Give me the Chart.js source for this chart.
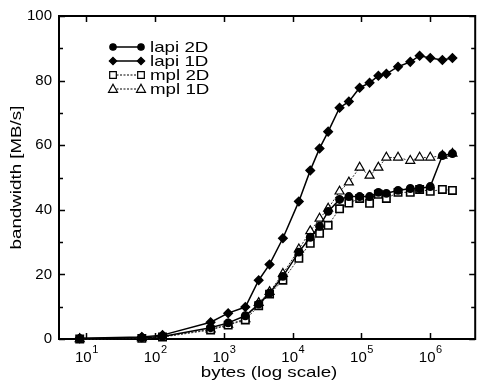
<!DOCTYPE html>
<html>
<head>
<meta charset="utf-8">
<script src="https://cdn.jsdelivr.net/npm/chart.js@4/dist/chart.umd.min.js"></script>
<style>
  html, body { margin: 0; padding: 0; background: #fff; }
</style>
</head>
<body>
<canvas id="myChart" width="482" height="381"></canvas>
<script>
// message sizes in bytes (shared by all series)
const bytes = [8, 64, 128, 640, 1152, 2048, 3200, 4608, 7200, 12288, 18000, 24576,
  32768, 48000, 65536, 94000, 131072, 176000, 230000, 340000, 512000, 700000,
  1000000, 1500000, 2100000];

const lapi2D = [0.1, 0.4, 0.8, 3.5, 5.0, 7.2, 10.8, 14.2, 19.4, 26.9, 31.5, 34.9,
  39.5, 43.2, 44.1, 44.1, 44.1, 45.4, 45.1, 46.0, 46.6, 46.6, 47.2, 56.8, 57.4];
const lapi1D = [0.2, 0.6, 1.2, 5.2, 8.0, 9.9, 18.2, 23.1, 31.2, 42.6, 52.2, 59.0,
  64.2, 71.6, 73.5, 77.8, 79.3, 81.5, 82.1, 84.3, 85.8, 87.7, 87.0, 86.4, 87.0];
const mpl2D = [0, 0.2, 0.6, 2.8, 4.3, 5.9, 10.3, 13.9, 18.2, 25.0, 29.6, 32.7,
  35.2, 40.3, 42.1, 43.5, 42.0, 44.8, 43.5, 45.4, 45.4, 46.3, 45.7, 46.3, 46.0];
const mpl1D = [0, 0.3, 0.7, 3.0, 4.5, 6.2, 11.2, 14.6, 20.2, 27.8, 33.4, 37.3,
  40.4, 45.7, 48.5, 53.1, 50.6, 53.1, 56.2, 56.2, 55.2, 56.2, 56.2, 56.8, 57.4];

const seriesNames = ["lapi 2D", "lapi 1D", "mpl 2D", "mpl 1D"];
const xTicks = [10, 100, 1000, 10000, 100000, 1000000];
const yTicks = [0, 20, 40, 60, 80, 100];
const xTitle = "bytes (log scale)";
const yTitle = "bandwidth [MB/s]";

const FONT = "Liberation Sans, Arial, sans-serif";
const STRETCH = 1.25; // titles and legend text are drawn wider than tall

function pairs(values) {
  return bytes.map((b, i) => ({ x: b, y: values[i] }));
}

function wideText(ctx, text, x, y, rotate) {
  ctx.save();
  ctx.translate(x, y);
  if (rotate) ctx.rotate(-Math.PI / 2);
  ctx.scale(STRETCH, 1);
  ctx.fillText(text, 0, 0);
  ctx.restore();
}

function drawMarker(ctx, style, x, y, r) {
  ctx.beginPath();
  if (style === "circle") {
    ctx.arc(x, y, r, 0, Math.PI * 2);
  } else if (style === "rectRot") {
    ctx.moveTo(x, y - r);
    ctx.lineTo(x + r, y);
    ctx.lineTo(x, y + r);
    ctx.lineTo(x - r, y);
    ctx.closePath();
  } else if (style === "rect") {
    const s = r * Math.SQRT1_2;
    ctx.rect(x - s, y - s, 2 * s, 2 * s);
  } else if (style === "triangle") {
    ctx.moveTo(x, y - r);
    ctx.lineTo(x + r * 0.95, y + r * 0.7);
    ctx.lineTo(x - r * 0.95, y + r * 0.7);
    ctx.closePath();
  }
  ctx.fill();
  ctx.stroke();
}

// box with inward ticks on all four sides, tick labels and titles
const frame = {
  id: "frame",
  beforeDatasetsDraw(chart) {
    const { ctx, chartArea: a, scales } = chart;
    ctx.save();
    ctx.strokeStyle = "#000";
    ctx.lineWidth = 2;
    ctx.strokeRect(a.left, a.top, a.right - a.left, a.bottom - a.top);
    ctx.lineWidth = 1.5;
    ctx.beginPath();
    for (let v = 0; v <= 100; v += 10) {
      const y = Math.round(scales.y.getPixelForValue(v)) + 0.5;
      const len = v % 20 === 0 ? 6 : 4;
      ctx.moveTo(a.left, y); ctx.lineTo(a.left + len, y);
      ctx.moveTo(a.right, y); ctx.lineTo(a.right - len, y);
    }
    xTicks.forEach((v) => {
      const x = Math.round(scales.x.getPixelForValue(v)) + 0.5;
      ctx.moveTo(x, a.bottom); ctx.lineTo(x, a.bottom - 6);
      ctx.moveTo(x, a.top); ctx.lineTo(x, a.top + 6);
    });
    ctx.stroke();

    // x tick labels as 10 with a raised exponent
    ctx.fillStyle = "#000";
    ctx.textBaseline = "alphabetic";
    ctx.textAlign = "left";
    xTicks.forEach((v) => {
      const x = scales.x.getPixelForValue(v);
      const exp = String(Math.round(Math.log10(v)));
      ctx.font = "15px " + FONT;
      const w1 = ctx.measureText("10").width;
      ctx.font = "11px " + FONT;
      const w2 = ctx.measureText(exp).width;
      const left = x - (w1 + w2) / 2;
      ctx.font = "15px " + FONT;
      ctx.fillText("10", left, a.bottom + 23);
      ctx.font = "11px " + FONT;
      ctx.fillText(exp, left + w1 + 0.5, a.bottom + 14);
    });

    // axis titles
    ctx.font = "15px " + FONT;
    ctx.textAlign = "center";
    ctx.textBaseline = "middle";
    wideText(ctx, xTitle, (a.left + a.right) / 2 + 2, 373, false);
    wideText(ctx, yTitle, 17, (a.top + a.bottom) / 2, true);
    ctx.restore();
  },
  afterDraw(chart) {
    const { ctx } = chart;
    ctx.save();
    chart.data.datasets.forEach((ds, i) => {
      const y = 47 + 14 * i;
      ctx.strokeStyle = "#000";
      ctx.lineWidth = ds.borderWidth;
      ctx.setLineDash(ds.borderDash || []);
      ctx.beginPath();
      ctx.moveTo(113, y);
      ctx.lineTo(141, y);
      ctx.stroke();
      ctx.setLineDash([]);
      ctx.fillStyle = ds.pointBackgroundColor;
      ctx.lineWidth = 1.2;
      drawMarker(ctx, ds.pointStyle, 113, y, ds.pointRadius - 0.5);
      drawMarker(ctx, ds.pointStyle, 141, y, ds.pointRadius - 0.5);
      ctx.fillStyle = "#000";
      ctx.font = "15px " + FONT;
      ctx.textAlign = "left";
      ctx.textBaseline = "middle";
      wideText(ctx, ds.label, 150, y + 1, false);
    });
    ctx.restore();
  },
};

const ctx = document.getElementById("myChart");

new Chart(ctx, {
  type: "line",
  data: {
    datasets: [
      {
        label: seriesNames[0],
        data: pairs(lapi2D),
        borderColor: "#000",
        borderWidth: 1.5,
        pointStyle: "circle",
        pointRadius: 3.7,
        pointBackgroundColor: "#000",
        pointBorderColor: "#000",
      },
      {
        label: seriesNames[1],
        data: pairs(lapi1D),
        borderColor: "#000",
        borderWidth: 1.5,
        pointStyle: "rectRot",
        pointRadius: 4.2,
        pointBackgroundColor: "#000",
        pointBorderColor: "#000",
      },
      {
        label: seriesNames[2],
        data: pairs(mpl2D),
        borderColor: "#333",
        borderWidth: 1,
        borderDash: [2, 1.5],
        pointStyle: "rect",
        pointRadius: 5.2,
        pointBackgroundColor: "#fff",
        pointBorderColor: "#000",
        pointBorderWidth: 1.6,
      },
      {
        label: seriesNames[3],
        data: pairs(mpl1D),
        borderColor: "#333",
        borderWidth: 1,
        borderDash: [2, 1.5],
        pointStyle: "triangle",
        pointRadius: 5.2,
        pointBackgroundColor: "#fff",
        pointBorderColor: "#000",
        pointBorderWidth: 1.2,
      },
    ],
  },
  options: {
    responsive: false,
    animation: false,
    clip: false,
    layout: { padding: { top: 15, right: 2, left: 0, bottom: 0 } },
    plugins: {
      legend: { display: false },
      tooltip: { enabled: false },
    },
    elements: { line: { tension: 0 } },
    scales: {
      x: {
        type: "logarithmic",
        min: 4,
        max: 4.5e6,
        afterBuildTicks: (scale) => {
          scale.ticks = xTicks.map((v) => ({ value: v }));
        },
        afterFit: (scale) => {
          scale.height = 42;
        },
        grid: { display: false, drawTicks: false },
        border: { display: false },
        ticks: { display: false },
      },
      y: {
        min: 0,
        max: 100,
        afterBuildTicks: (scale) => {
          scale.ticks = yTicks.map((v) => ({ value: v }));
        },
        afterFit: (scale) => {
          scale.width = 59;
        },
        grid: { display: false, drawTicks: false },
        border: { display: false },
        ticks: {
          color: "#000",
          padding: 7,
          font: { family: FONT, size: 15 },
        },
      },
    },
  },
  plugins: [frame],
});
</script>
</body>
</html>
